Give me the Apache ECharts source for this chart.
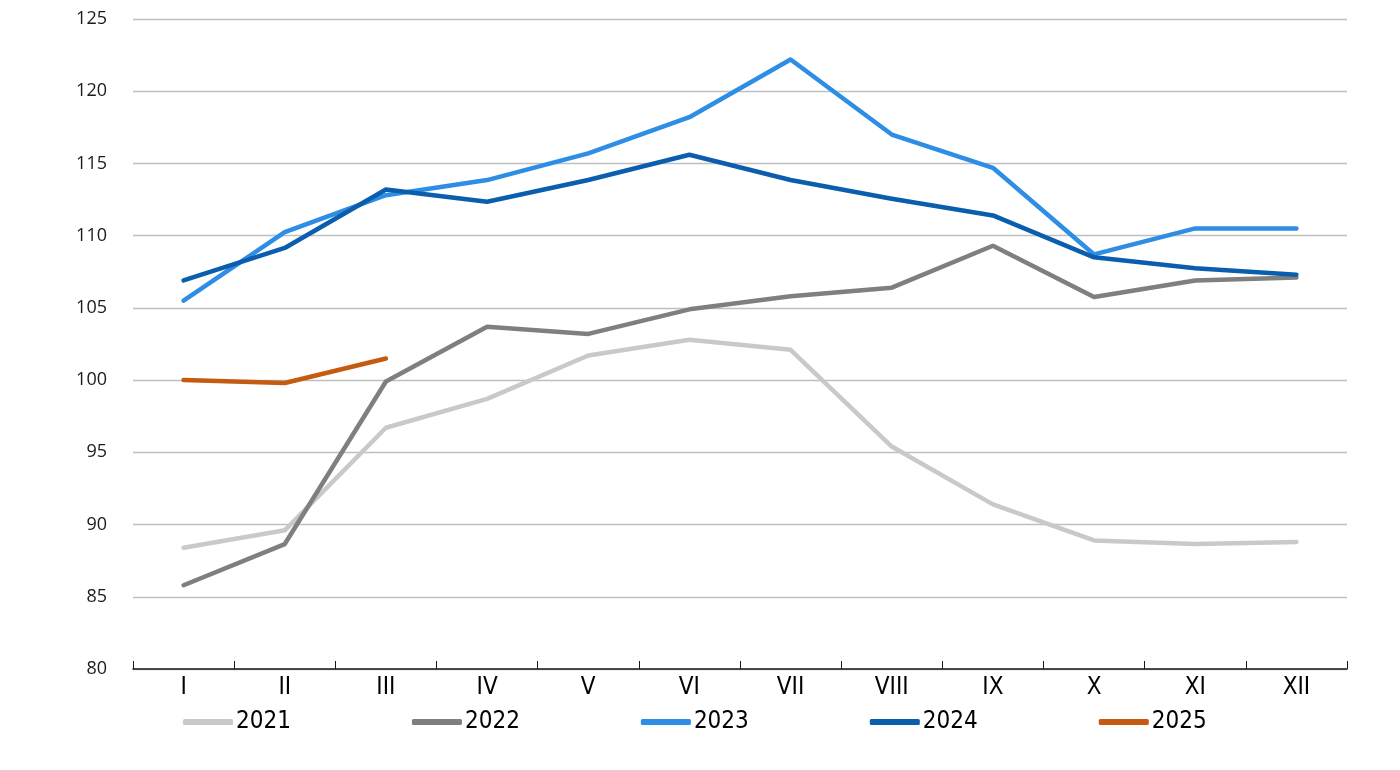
<!DOCTYPE html>
<html>
<head>
<meta charset="utf-8">
<script src="https://cdn.jsdelivr.net/npm/echarts@6/dist/echarts.min.js"></script>
<style>html,body{margin:0;padding:0;background:#fff;}#c{width:1400px;height:770px;}</style>
</head>
<body>
<div id="c"></div>
<script>
const months = ['I','II','III','IV','V','VI','VII','VIII','IX','X','XI','XII'];
const s2021 = [88.4, 89.6, 96.7, 98.7, 101.7, 102.8, 102.1, 95.4, 91.4, 88.9, 88.65, 88.8];
const s2022 = [85.8, 88.65, 99.9, 103.7, 103.2, 104.9, 105.8, 106.4, 109.3, 105.75, 106.9, 107.1];
const s2023 = [105.5, 110.25, 112.8, 113.85, 115.7, 118.2, 122.2, 117.0, 114.7, 108.7, 110.5, 110.5];
const s2024 = [106.9, 109.15, 113.2, 112.35, 113.85, 115.6, 113.85, 112.55, 111.4, 108.5, 107.75, 107.3];
const s2025 = [100.0, 99.8, 101.5];
const seriesNames = ['2021','2022','2023','2024','2025'];
const colors = ['#C9C9C9','#7F7F7F','#2E8DE5','#0B5EAD','#C55A11'];
const allData = [s2021, s2022, s2023, s2024, s2025];

const narrow = "'DejaVu Sans Condensed', 'Liberation Sans Narrow', Roboto, sans-serif";
const chart = echarts.init(document.getElementById('c'));
chart.setOption({
  animation: false,
  color: colors,
  grid: {left: 133, right: 53, top: 19, bottom: 101},
  legend: {
    left: 178, top: 705,
    icon: 'roundRect',
    itemWidth: 50, itemHeight: 6,
    itemGap: 121,
    textStyle: {fontFamily: narrow, fontSize: 24, color: '#000', padding: [0,0,0,-2]},
    data: seriesNames
  },
  xAxis: {
    type: 'category',
    data: months,
    boundaryGap: true,
    axisLine: {lineStyle: {color: '#1a1a1a', width: 1.5}},
    axisTick: {show: true, inside: true, length: 8, lineStyle: {color: '#1a1a1a', width: 1}},
    axisLabel: {fontFamily: narrow, fontSize: 24, color: '#000', margin: 7}
  },
  yAxis: {
    type: 'value', min: 80, max: 125, interval: 5,
    axisLine: {show: false}, axisTick: {show: false},
    splitLine: {lineStyle: {color: '#BFBFBF', width: 1.3}},
    axisLabel: {fontFamily: 'Open Sans', fontSize: 18, color: '#1a1a1a', margin: 26}
  },
  series: seriesNames.map((n, i) => ({
    name: n, type: 'line', data: allData[i],
    showSymbol: false, symbol: 'none',
    lineStyle: {width: 4.5, color: colors[i], cap: 'round', join: 'round'},
    itemStyle: {color: colors[i]},
    z: 2 + i
  }))
});
</script>
</body>
</html>
